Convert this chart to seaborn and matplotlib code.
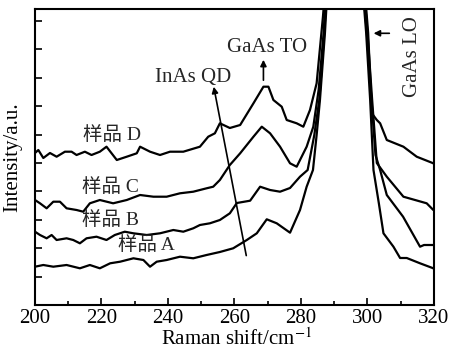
import numpy as np
import pandas as pd
import matplotlib
matplotlib.use("Agg")
import matplotlib.pyplot as plt
import seaborn as sns

# Raman spectra (x: Raman shift cm^-1, y: intensity a.u.)
x_A = [200, 202.5, 205.5, 209.5, 213.5, 216.5, 219.5, 222.6, 225.6, 229.6, 232.6, 234.6,
       236.6, 239.6, 243.6, 247.6, 251.6, 255.6, 259.6, 263.7, 266.7, 269.7, 272.7, 276.7,
       279.7, 281.7, 283.6, 284.7, 285.7, 287.2, 288.2, 293, 298.2, 299.6, 300.8, 301.8,
       303.4, 304.8, 307.8, 309.8, 311.8, 315.8, 319.8, 320]
y_A = [38.3, 40, 38.3, 40, 36.7, 40, 36.7, 41.7, 43.3, 46.7, 45, 38.3,
       43.3, 45, 48.3, 46.7, 50, 53, 56.7, 65, 71.7, 85.7, 81.7, 72.3,
       95, 118.3, 135, 170, 205, 272, 330, 500, 330, 272, 205, 135,
       102, 71.7, 58.3, 47, 47, 41.7, 36.7, 36]

x_B = [200, 201.5, 203.5, 205, 206.5, 209.5, 211.5, 213.5, 215.5, 218.5, 221.5, 224,
       227, 229.6, 233.6, 237.6, 241.6, 244.6, 247.6, 249.6, 252.6, 255.6, 258.6, 260.7,
       264.7, 267.7, 270.7, 273.7, 276.7, 279.7, 282, 284, 285.5, 287, 288, 293,
       298.4, 299.8, 301.2, 302.4, 303.8, 305.8, 310.7, 315.8, 317, 319.8, 320]
y_B = [73.3, 70, 66.7, 70, 65, 66.7, 65, 61.7, 66.7, 68.3, 65, 70,
       73.3, 71.7, 70, 71.7, 75, 73.3, 76.7, 80, 81.7, 85, 91.7, 102,
       104.3, 118.3, 115, 113.3, 117, 128.3, 135, 170, 205, 272, 330, 500,
       330, 272, 205, 150, 135, 110, 88.3, 58.3, 60, 60, 60]

x_C = [200, 201.5, 203.5, 205.5, 207.5, 209.5, 212.5, 214.5, 216.5, 219.5, 223.5, 227.6,
       231.6, 235.6, 239.6, 243.6, 247.6, 251.6, 253.6, 255.6, 258.6, 261.7, 265.7, 268.2,
       270.7, 273.7, 276.7, 278.7, 281.7, 283.7, 285.3, 286.8, 287.8, 293, 298.6, 300.0,
       301.4, 302.8, 305.8, 310.8, 317.8, 319.8, 320]
y_C = [105, 101.7, 96.7, 103.3, 103.3, 96.7, 95, 93.3, 101.7, 105, 101.7, 105,
       110, 108.3, 108.3, 111.7, 113.3, 116.7, 118.3, 125, 140, 151.7, 168.3, 178.3,
       171.7, 158.3, 141.7, 138.3, 158.3, 178.3, 215, 272, 330, 500, 330, 272,
       205, 142, 128.3, 108.3, 101.7, 95, 95]

x_D = [200, 201, 202.5, 204.5, 206.5, 209, 211, 212.5, 215, 217, 219.5, 221.5,
       224.6, 227.6, 230.6, 231.6, 234.6, 237.6, 240.6, 244.6, 249.6, 252.1, 254.1, 255.6,
       258.6, 261.7, 265.7, 268.7, 270.2, 271.7, 274.2, 275.7, 278.7, 280.7, 282.7, 284.7,
       286.6, 287.6, 293, 298.8, 300.2, 301.3, 302.8, 303.8, 305.8, 310.8, 314.8, 319.8, 320]
y_D = [152, 155, 147, 152, 148.3, 153.3, 153.3, 150, 153.3, 150, 153.3, 158.3,
       145, 148.3, 151.7, 158.3, 153.3, 150, 153.3, 153.3, 158.3, 168.3, 171.7, 181.7,
       177, 180, 201.7, 218.3, 218.3, 205, 198.3, 185, 181.7, 178.3, 195, 221.7,
       288.3, 330, 500, 330, 272, 191.7, 185, 181.7, 165, 158.3, 148.3, 141.7, 141]

x_ticks = [200, 220, 240, 260, 280, 300, 320]
sample_labels = ["样品 A", "样品 B", "样品 C", "样品 D"]

sns.set_theme(style="ticks")
plt.rcParams['font.family'] = ['Liberation Serif', 'Noto Sans CJK SC']
plt.rcParams['mathtext.fontset'] = 'stix'

fig = plt.figure(figsize=(4.53, 3.51), dpi=100)
ax = fig.add_axes([35/453, 46/351, 399/453, 296/351])

for xs, ys in [(x_A, y_A), (x_B, y_B), (x_C, y_C), (x_D, y_D)]:
    df = pd.DataFrame({"x": xs, "y": ys})
    sns.lineplot(data=df, x="x", y="y", sort=False, ax=ax, color="black",
                 linewidth=1.6, estimator=None)

ax.set_xlim(200, 320)
ax.set_ylim(0, 296)
ax.set_xticks(x_ticks)
ax.set_xticks(np.arange(210, 320, 20), minor=True)
ax.set_yticks(np.arange(28.4, 290, 28.4))
ax.set_yticklabels([])
ax.tick_params(axis='both', which='both', direction='in', color='black', width=1.2)
ax.tick_params(axis='x', which='major', length=5, labelsize=15, pad=3, colors='black')
ax.tick_params(axis='x', which='minor', length=3)
ax.tick_params(axis='y', length=5, left=True, right=False)
for s in ax.spines.values():
    s.set_linewidth(1.5)
    s.set_color('black')

ax.set_xlabel("Raman shift/cm$^{-1}$", fontsize=15, color='black')
ax.xaxis.set_label_coords(0.505, -0.136, transform=ax.transAxes)
ax.xaxis.label.set_va('baseline')
ax.set_ylabel("Intensity/a.u.", fontsize=15, labelpad=6, color='black')

fs = 14
ax.text(233.4, 60, sample_labels[0], fontsize=fs, ha='center', va='center')
ax.text(222.6, 85, sample_labels[1], fontsize=fs, ha='center', va='center')
ax.text(222.6, 118, sample_labels[2], fontsize=fs, ha='center', va='center')
ax.text(223.2, 170, sample_labels[3], fontsize=fs, ha='center', va='center')

ax.text(269.8, 257, "GaAs TO", fontsize=15, ha='center', va='center')
ax.annotate("", xy=(268.7, 248), xytext=(268.7, 222),
            arrowprops=dict(arrowstyle='-|>', color='black', lw=1.2, mutation_scale=9))
ax.text(247.7, 227, "InAs QD", fontsize=15, ha='center', va='center')
ax.annotate("", xy=(253.6, 221), xytext=(263.7, 46.7),
            arrowprops=dict(arrowstyle='-|>', color='black', lw=1.2, mutation_scale=9))
ax.text(313.4, 248, "GaAs LO", fontsize=15, ha='center', va='center', rotation=90)
ax.annotate("", xy=(301.0, 271.7), xytext=(307.4, 271.7),
            arrowprops=dict(arrowstyle='-|>', color='black', lw=1.2, mutation_scale=9))

fig.savefig("out.png", dpi=100)
